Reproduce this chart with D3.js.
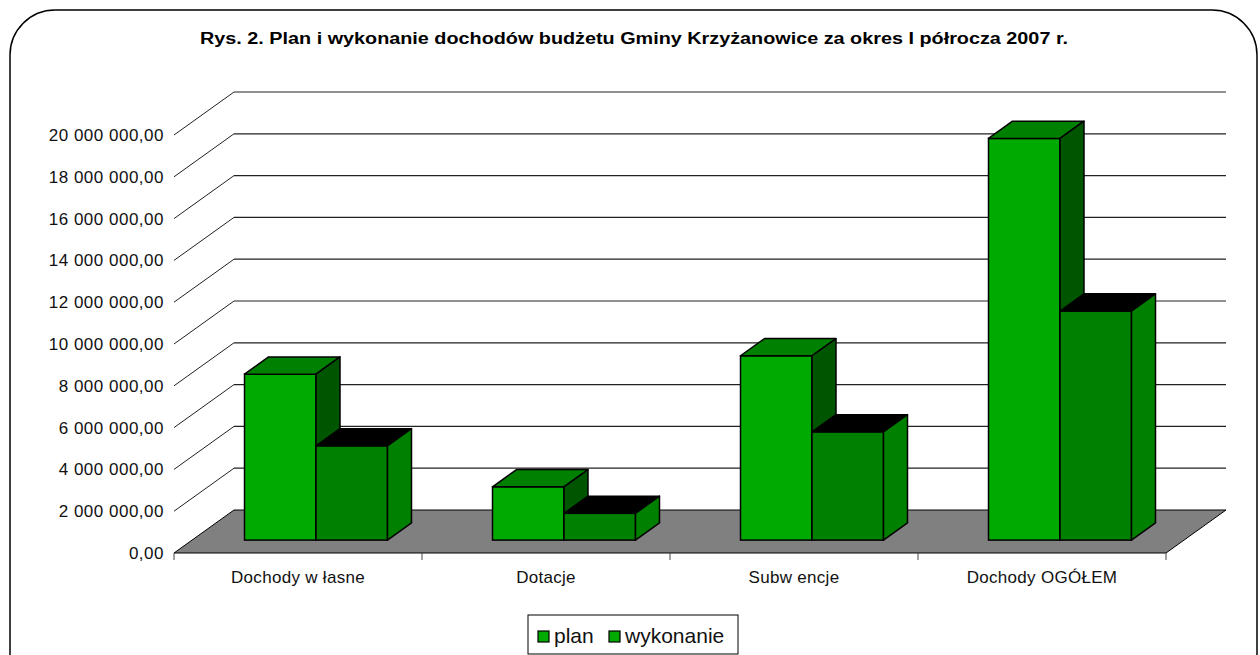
<!DOCTYPE html>
<html>
<head>
<meta charset="utf-8">
<script src="https://cdn.jsdelivr.net/npm/d3@7"></script>
<style>
  body { margin: 0; background: #fff; }
  text { font-family: "Liberation Sans", Arial, sans-serif; }
</style>
</head>
<body>
<div id="vis"></div>
<script>
// data
const categories = ['Dochody w łasne', 'Dotacje', 'Subw encje', 'Dochody OGÓŁEM'];
const series = ['plan', 'wykonanie'];
const planValues = [7940000, 2550000, 8820000, 19220000];
const wykonanieValues = [4510000, 1280000, 5180000, 10960000];
const yTicks = [0, 2000000, 4000000, 6000000, 8000000, 10000000, 12000000, 14000000, 16000000, 18000000, 20000000];

const seriesValues = [planValues, wykonanieValues];
const frontColors = ['#00aa00', '#008000'];
const topColors = ['#008000', '#000000'];
const sideColors = ['#005500', '#008000'];

const svg = d3.select('#vis')
.append('svg')
.attr('width', 1260)
.attr('height', 655);

// chart border with rounded corners
svg.append('rect')
.attr('x', 10)
.attr('y', 10)
.attr('width', 1247)
.attr('height', 700)
.attr('rx', 45)
.attr('fill', 'none')
.attr('stroke', 'black')
.attr('stroke-width', 1.5);

// title
svg.append('text')
.attr('x', 634)
.attr('y', 44)
.attr('text-anchor', 'middle')
.attr('font-weight', 'bold')
.attr('font-size', '16px')
.attr('textLength', 868)
.attr('lengthAdjust', 'spacingAndGlyphs')
.text('Rys. 2. Plan i wykonanie dochodów budżetu Gminy Krzyżanowice za okres I półrocza 2007 r.');

// 3d frame
const x0 = 174, x1 = 1166, floorY = 553;
const depthX = 60, depthY = 43;

let x = d3.scaleBand()
.domain(categories)
.range([x0, x1]);

let h = d3.scaleLinear()
.domain([0, 20000000])
.range([0, 418]);

const fmt = d3.formatLocale({decimal: ',', thousands: ' ', grouping: [3], currency: ['', '']}).format(',.2f');

// floor
svg.append('polygon')
.attr('points', [[x0, floorY], [x1, floorY], [x1 + depthX, floorY - depthY], [x0 + depthX, floorY - depthY]].join(' '))
.attr('fill', '#808080')
.attr('stroke', 'black')
.attr('stroke-width', 1);

// gridlines: diagonal on the left wall + horizontal on the back wall
const grid = svg.selectAll('.grid')
.data(yTicks.filter(t => t > 0))
.enter()
.append('g')
.attr('class', 'grid');

grid.append('line')
.attr('x1', x0)
.attr('y1', t => floorY - h(t))
.attr('x2', x0 + depthX)
.attr('y2', t => floorY - depthY - h(t))
.attr('stroke', '#222')
.attr('stroke-width', 1);

grid.append('line')
.attr('x1', x0 + depthX)
.attr('y1', t => floorY - depthY - h(t))
.attr('x2', x1 + depthX)
.attr('y2', t => floorY - depthY - h(t))
.attr('stroke', '#222')
.attr('stroke-width', 1.2);

// y tick labels
svg.selectAll('.ylabel')
.data(yTicks)
.enter()
.append('text')
.attr('class', 'ylabel')
.attr('x', 164)
.attr('y', t => floorY - h(t) + 6)
.attr('text-anchor', 'end')
.attr('font-size', '17px')
.attr('letter-spacing', '0.5px')
.attr('fill', '#111')
.text(t => fmt(t));

// category ticks
svg.selectAll('.xtick')
.data(d3.range(categories.length + 1))
.enter()
.append('line')
.attr('class', 'xtick')
.attr('x1', i => x0 + i * x.step())
.attr('x2', i => x0 + i * x.step())
.attr('y1', floorY)
.attr('y2', floorY + 7)
.attr('stroke', '#444');

// category labels
svg.selectAll('.xlabel')
.data(categories)
.enter()
.append('text')
.attr('class', 'xlabel')
.attr('x', c => x(c) + x.bandwidth() / 2)
.attr('y', 583)
.attr('text-anchor', 'middle')
.attr('font-size', '17px')
.attr('letter-spacing', '0.3px')
.attr('fill', '#111')
.text(c => c);

// bars sit between 30% and 70% of the floor depth
const barFront = 0.3, barBack = 0.7;
const baseY = floorY - barFront * depthY;
const offX = barFront * depthX;
const bdx = (barBack - barFront) * depthX;
const bdy = (barBack - barFront) * depthY;

let xSub = d3.scaleBand()
.domain(series)
.range([0, 143]);

categories.forEach((c, ci) => {
  series.forEach((s, si) => {
    const v = seriesValues[si][ci];
    const xl = x(c) + x.bandwidth() / 2 - 71.5 + offX + xSub(s);
    const xr = xl + xSub.bandwidth();
    const yt = baseY - h(v);
    const g = svg.append('g');

    g.append('rect')
    .attr('x', xl)
    .attr('y', yt)
    .attr('width', xr - xl)
    .attr('height', h(v))
    .attr('fill', frontColors[si])
    .attr('stroke', 'black')
    .attr('stroke-width', 1.5);

    g.append('polygon')
    .attr('points', [[xl, yt], [xr, yt], [xr + bdx, yt - bdy], [xl + bdx, yt - bdy]].join(' '))
    .attr('fill', topColors[si])
    .attr('stroke', 'black')
    .attr('stroke-width', 1.5)
    .attr('stroke-linejoin', 'round');

    g.append('polygon')
    .attr('points', [[xr, yt], [xr + bdx, yt - bdy], [xr + bdx, baseY - bdy], [xr, baseY]].join(' '))
    .attr('fill', sideColors[si])
    .attr('stroke', 'black')
    .attr('stroke-width', 1.5)
    .attr('stroke-linejoin', 'round');
  });
});

// legend
svg.append('rect')
.attr('x', 528)
.attr('y', 615)
.attr('width', 210)
.attr('height', 39)
.attr('fill', 'white')
.attr('stroke', 'black')
.attr('stroke-width', 1);

const legendX = [538, 609];
series.forEach((s, si) => {
  svg.append('rect')
  .attr('x', legendX[si])
  .attr('y', 631)
  .attr('width', 11)
  .attr('height', 11)
  .attr('fill', '#00aa00')
  .attr('stroke', 'black')
  .attr('stroke-width', 1.2);

  svg.append('text')
  .attr('x', legendX[si] + 16)
  .attr('y', 643)
  .attr('font-size', '21px')
  .attr('fill', '#111')
  .text(s);
});
</script>
</body>
</html>
